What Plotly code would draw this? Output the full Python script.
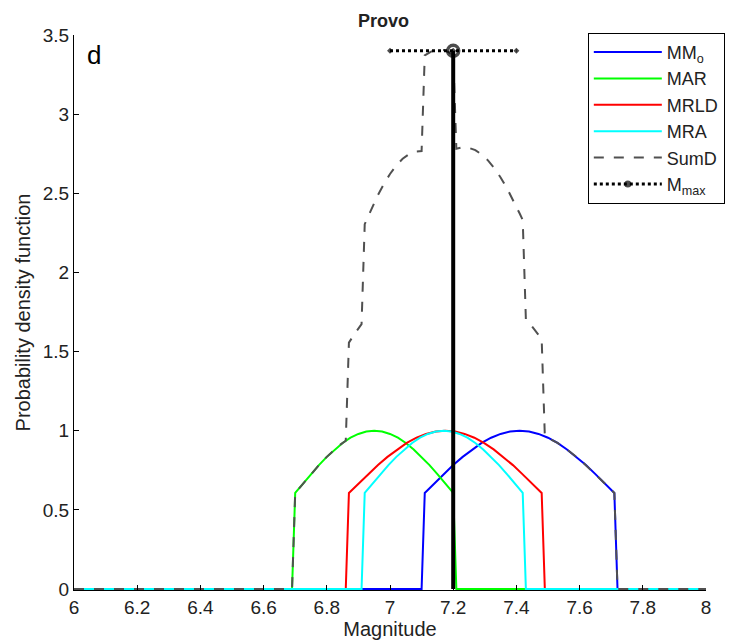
import plotly.graph_objects as go

# ---- data ----
mmo_x = [6.00, 7.10, 7.11, 7.14, 7.17, 7.20, 7.23, 7.26, 7.29, 7.32, 7.35, 7.38, 7.41,
         7.44, 7.47, 7.50, 7.53, 7.56, 7.59, 7.62, 7.65, 7.68, 7.71, 7.72, 8.00]
mmo_y = [0, 0, 0.607, 0.667, 0.726, 0.783, 0.835, 0.882, 0.923, 0.956, 0.980, 0.995, 1.000,
         0.995, 0.980, 0.956, 0.923, 0.882, 0.835, 0.783, 0.726, 0.667, 0.607, 0, 0]

mar_x = [6.00, 6.69, 6.700, 6.725, 6.750, 6.775, 6.800, 6.825, 6.850, 6.875, 6.900, 6.925, 6.950,
         6.975, 7.000, 7.025, 7.050, 7.075, 7.100, 7.125, 7.150, 7.175, 7.200, 7.21, 8.00]
mar_y = [0, 0, 0.607, 0.667, 0.726, 0.783, 0.835, 0.882, 0.923, 0.956, 0.980, 0.995, 1.000,
         0.995, 0.980, 0.956, 0.923, 0.882, 0.835, 0.783, 0.726, 0.667, 0.607, 0, 0]

mrld_x = [6.00, 6.86, 6.870, 6.901, 6.931, 6.962, 6.992, 7.023, 7.053, 7.084, 7.114, 7.145, 7.175,
          7.206, 7.236, 7.267, 7.297, 7.328, 7.358, 7.389, 7.419, 7.450, 7.480, 7.49, 8.00]
mrld_y = [0, 0, 0.607, 0.667, 0.726, 0.783, 0.835, 0.882, 0.923, 0.956, 0.980, 0.995, 1.000,
          0.995, 0.980, 0.956, 0.923, 0.882, 0.835, 0.783, 0.726, 0.667, 0.607, 0, 0]

mra_x = [6.00, 6.91, 6.920, 6.945, 6.970, 6.995, 7.020, 7.045, 7.070, 7.095, 7.120, 7.145, 7.170,
         7.195, 7.220, 7.245, 7.270, 7.295, 7.320, 7.345, 7.370, 7.395, 7.420, 7.43, 8.00]
mra_y = [0, 0, 0.607, 0.667, 0.726, 0.783, 0.835, 0.882, 0.923, 0.956, 0.980, 0.995, 1.000,
         0.995, 0.980, 0.956, 0.923, 0.882, 0.835, 0.783, 0.726, 0.667, 0.607, 0, 0]

sumd_x = [6.00, 6.69, 6.70, 6.72, 6.74, 6.76, 6.78, 6.80, 6.82, 6.84, 6.86, 6.87, 6.89, 6.91,
          6.92, 6.94, 6.96, 6.98, 7.00, 7.02, 7.04, 7.06, 7.08, 7.10, 7.11, 7.13, 7.15, 7.17,
          7.19, 7.20, 7.21, 7.23, 7.25, 7.27, 7.29, 7.31, 7.33, 7.35, 7.37, 7.39, 7.41, 7.42,
          7.43, 7.45, 7.47, 7.48, 7.49, 7.51, 7.53, 7.55, 7.57, 7.59, 7.61, 7.63, 7.65, 7.67,
          7.69, 7.71, 7.72, 8.00]
sumd_y = [0, 0, 0.607, 0.655, 0.703, 0.749, 0.794, 0.835, 0.874, 0.908, 0.937, 1.557, 1.618, 1.673,
          2.305, 2.397, 2.482, 2.557, 2.622, 2.676, 2.718, 2.747, 2.764, 2.767, 3.371, 3.395, 3.406, 3.405,
          3.390, 3.379, 2.781, 2.791, 2.787, 2.773, 2.745, 2.708, 2.659, 2.600, 2.532, 2.457, 2.374, 2.331,
          1.703, 1.657, 1.607, 1.580, 0.965, 0.946, 0.923, 0.897, 0.867, 0.835, 0.801, 0.764, 0.726, 0.687,
          0.647, 0.607, 0, 0]

mmax_value = 7.2
mmax_pdf = 3.4
mmax_range = [7.0, 7.4]

x_ticks = [6, 6.2, 6.4, 6.6, 6.8, 7, 7.2, 7.4, 7.6, 7.8, 8]
x_tick_text = ["6", "6.2", "6.4", "6.6", "6.8", "7", "7.2", "7.4", "7.6", "7.8", "8"]
y_ticks = [0, 0.5, 1, 1.5, 2, 2.5, 3, 3.5]
y_tick_text = ["0", "0.5", "1", "1.5", "2", "2.5", "3", "3.5"]

FONT = "Liberation Sans, Arial, sans-serif"
TXT = "#222222"

fig = go.Figure()
fig.add_trace(go.Scatter(x=mmo_x, y=mmo_y, mode="lines", name="MM<sub>o</sub>",
                         line=dict(color="#0000ff", width=2)))
fig.add_trace(go.Scatter(x=mar_x, y=mar_y, mode="lines", name="MAR",
                         line=dict(color="#00ff00", width=2)))
fig.add_trace(go.Scatter(x=mrld_x, y=mrld_y, mode="lines", name="MRLD",
                         line=dict(color="#ff0000", width=2)))
fig.add_trace(go.Scatter(x=mra_x, y=mra_y, mode="lines", name="MRA",
                         line=dict(color="#00ffff", width=2)))
fig.add_trace(go.Scatter(x=sumd_x, y=sumd_y, mode="lines", name="SumD",
                         line=dict(color="#505050", width=2, dash="10px,10px")))
fig.add_trace(go.Scatter(x=[mmax_value, mmax_value], y=[0, mmax_pdf], mode="lines",
                         showlegend=False, line=dict(color="black", width=4)))
fig.add_trace(go.Scatter(x=[mmax_range[0], mmax_value, mmax_range[1]],
                         y=[mmax_pdf, mmax_pdf, mmax_pdf], mode="lines+markers",
                         name="M<sub>max</sub>",
                         line=dict(color="black", width=3, dash="dot"),
                         marker=dict(symbol="circle-open-dot",
                                     size=[0, 11, 0], color="black",
                                     line=dict(color="black", width=3.5))))

fig.update_layout(
    width=732, height=633,
    margin=dict(l=66, r=34, t=27, b=51, autoexpand=False),
    paper_bgcolor="white", plot_bgcolor="white",
    font=dict(family=FONT, size=19, color=TXT),
    showlegend=True,
    legend=dict(x=0.813, y=1.004, xanchor="left", yanchor="top",
                bordercolor="black", borderwidth=1, bgcolor="white",
                font=dict(family=FONT, size=18, color=TXT),
                tracegroupgap=0, itemwidth=68),
    xaxis=dict(range=[6, 8], tickvals=x_ticks, ticktext=x_tick_text, automargin=False,
               showline=True, linecolor="black", linewidth=1, mirror=False,
               ticks="inside", ticklen=5, tickcolor="black", showgrid=False, zeroline=False,
               tickfont=dict(family=FONT, size=19, color=TXT),
               title=dict(text="Magnitude", font=dict(family=FONT, size=20, color=TXT), standoff=3)),
    yaxis=dict(range=[-0.006, 3.5], tickvals=y_ticks, ticktext=y_tick_text, automargin=False,
               showline=True, linecolor="black", linewidth=1, mirror=False,
               ticks="inside", ticklen=5, tickcolor="black", showgrid=False, zeroline=False,
               tickfont=dict(family=FONT, size=19, color=TXT),
               title=dict(text="Probability density function",
                          font=dict(family=FONT, size=20, color=TXT), standoff=6)),
    annotations=[
        dict(text="<b>Provo</b>", xref="paper", yref="paper", x=0.49, y=1.0,
             xanchor="center", yanchor="bottom", showarrow=False,
             font=dict(family=FONT, size=18, color=TXT), yshift=2),
        dict(text="d", xref="paper", yref="paper", x=0.018, y=0.995,
             xanchor="left", yanchor="top", showarrow=False,
             font=dict(family=FONT, size=26, color="black")),
    ],
)

fig.write_html("out.html")
